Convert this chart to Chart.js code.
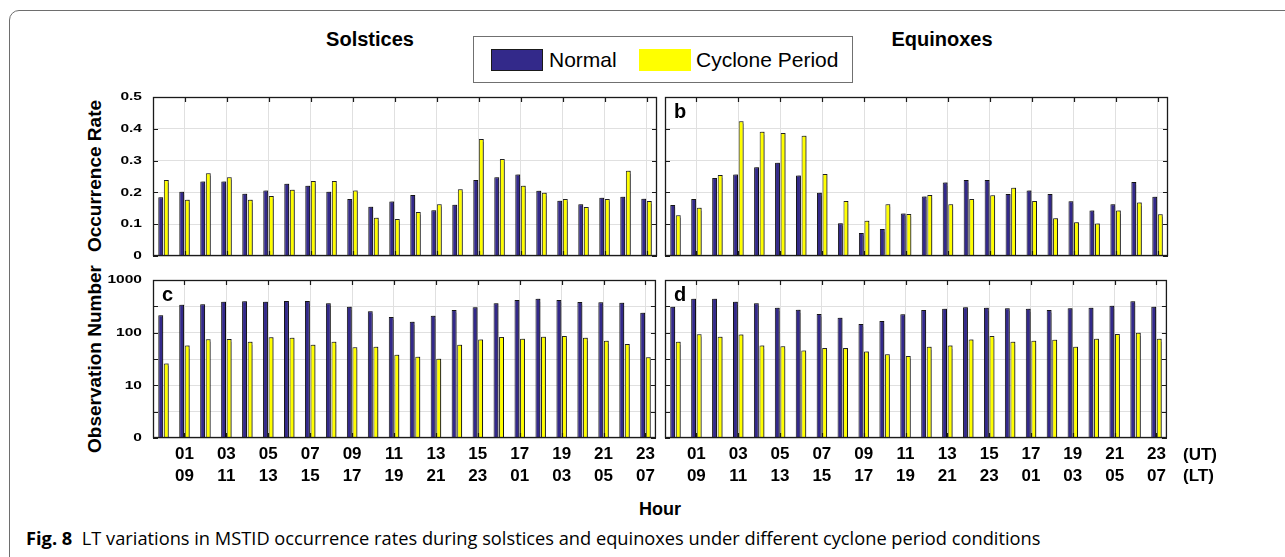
<!DOCTYPE html>
<html>
<head>
<meta charset="utf-8">
<script src="https://cdn.jsdelivr.net/npm/chart.js@4.4.0/dist/chart.umd.min.js"></script>
<style>
  html, body { margin: 0; padding: 0; background: #fff; }
  body { width: 1285px; height: 557px; position: relative; overflow: hidden;
         font-family: "Liberation Sans", Arial, sans-serif; color: #000; }
  .frame { position: absolute; left: 9px; top: 10px; width: 1300px; height: 560px;
           border: 1.5px solid #6e6e6e; border-radius: 10px; box-sizing: border-box; }
  .abs { position: absolute; white-space: nowrap; }
  .ctr { transform: translate(-50%, -50%); }
  .rot { transform: translate(-50%, -50%) rotate(-90deg); }
  canvas { position: absolute; }
  .legend { position: absolute; left: 473px; top: 36px; width: 380px; height: 47px;
            border: 1px solid #707070; box-sizing: border-box; background: #fff; }
  .sw { position: absolute; top: 12px; width: 52px; height: 22px; box-sizing: border-box; }
  .lt { position: absolute; top: 23px; transform: translateY(-50%); font-size: 21px; white-space: nowrap; }
  #caption { font-family: "Open Sans", "Noto Sans", sans-serif; font-size: 16px; }
</style>
</head>
<body>
<div class="frame"></div>

<div class="abs ctr" style="left:370px; top:39px; font-weight:bold; font-size:20px;">Solstices</div>
<div class="abs ctr" style="left:942px; top:39px; font-weight:bold; font-size:20px;">Equinoxes</div>

<div class="legend">
  <div class="sw" style="left:17px; background:#33298a; border:1px solid #1a1a1a;"></div>
  <div class="lt" style="left:75px;">Normal</div>
  <div class="sw" style="left:165px; background:#ffff00;"></div>
  <div class="lt" style="left:222px;">Cyclone Period</div>
</div>

<div class="abs rot" style="left:95px; top:176px; font-weight:bold; font-size:19px;">Occurrence Rate</div>
<div class="abs rot" style="left:95px; top:359px; font-weight:bold; font-size:19px;">Observation Number</div>

<canvas id="panelA" width="568" height="169" style="left:93px; top:91px;"></canvas>
<canvas id="panelB" width="567" height="169" style="left:605px; top:91px;"></canvas>
<canvas id="panelC" width="568" height="214" style="left:93px; top:274px;"></canvas>
<canvas id="panelD" width="567" height="214" style="left:605px; top:274px;"></canvas>

<div class="abs" style="left:1183px; top:455px; transform:translateY(-50%); font-weight:bold; font-size:17px;">(UT)</div>
<div class="abs" style="left:1183px; top:476px; transform:translateY(-50%); font-weight:bold; font-size:17px;">(LT)</div>
<div class="abs ctr" style="left:660px; top:509px; font-weight:bold; font-size:18px;">Hour</div>

<div id="caption" class="abs" style="left:26px; top:537px; transform:translateY(-50%);"><b>Fig. 8</b>&nbsp; LT variations in MSTID occurrence rates during solstices and equinoxes under different cyclone period conditions</div>

<script>
// categories (UT hour)
const hours = ["00","01","02","03","04","05","06","07","08","09","10","11",
               "12","13","14","15","16","17","18","19","20","21","22","23"];
const utTickLabels = ["01","03","05","07","09","11","13","15","17","19","21","23"];
const ltTickLabels = ["09","11","13","15","17","19","21","23","01","03","05","07"];

// occurrence rate
const solsticeRateNormal  = [0.185,0.202,0.234,0.234,0.196,0.206,0.227,0.221,0.202,0.179,0.155,0.171,
                             0.192,0.144,0.161,0.239,0.248,0.256,0.205,0.174,0.163,0.183,0.186,0.180];
const solsticeRateCyclone = [0.239,0.177,0.260,0.248,0.177,0.189,0.208,0.236,0.236,0.206,0.120,0.116,
                             0.138,0.163,0.210,0.368,0.305,0.221,0.199,0.179,0.154,0.179,0.268,0.173];
const equinoxRateNormal   = [0.160,0.179,0.245,0.256,0.279,0.293,0.253,0.199,0.103,0.072,0.085,0.134,
                             0.187,0.231,0.239,0.239,0.195,0.206,0.195,0.172,0.143,0.163,0.233,0.186];
const equinoxRateCyclone  = [0.128,0.152,0.255,0.424,0.391,0.387,0.378,0.258,0.173,0.111,0.163,0.132,
                             0.192,0.163,0.179,0.191,0.215,0.173,0.119,0.106,0.102,0.143,0.168,0.131];

// observation number
const solsticeObsNormal  = [213,340,345,388,393,388,399,399,360,312,254,198,
                            162,210,269,303,360,417,442,417,382,377,371,240];
const solsticeObsCyclone = [26,57,75,76,67,82,80,59,67,53,54,38,
                            35,32,59,74,83,77,84,86,80,70,61,34];
const equinoxObsNormal   = [312,442,442,388,360,298,273,226,193,146,167,223,
                            269,285,303,298,290,285,269,290,298,326,393,312];
const equinoxObsCyclone  = [67,93,84,92,57,55,46,51,51,44,39,36,
                            54,57,74,86,67,70,73,54,77,94,100,77];

// y axis ticks
const rateTickValues = [0, 0.1, 0.2, 0.3, 0.4, 0.5];
const rateTickLabels = ["0", "0.1", "0.2", "0.3", "0.4", "0.5"];
const obsTickValues  = [1, 3.162, 10, 31.62, 100, 316.2, 1000];
const obsTickLabels  = ["0", "", "10", "", "100", "", "1000"];

const NAVY = "#33298a";
const YELLOW = "#ffff00";
const GRID = "#e0e0e0";
const FONT = '"Liberation Sans", Arial, sans-serif';

const barShadow = {
  id: "barShadow",
  beforeDatasetsDraw(chart) {
    const c = chart.ctx;
    c.save();
    c.shadowColor = "rgba(0,0,0,0.45)";
    c.shadowOffsetX = 1.5;
    c.shadowOffsetY = -0.5;
    c.shadowBlur = 1;
  },
  afterDatasetsDraw(chart) {
    chart.ctx.restore();
  }
};

// box, inward ticks, stretched y labels and panel letter
const matlabAxes = {
  id: "matlabAxes",
  afterDraw(chart, args, opts) {
    const c = chart.ctx;
    const { left, right, top, bottom } = chart.chartArea;
    const x = chart.scales.x, y = chart.scales.y;
    c.save();
    c.strokeStyle = "#1a1a1a";
    c.lineWidth = 1.2;
    c.beginPath();
    x.ticks.forEach((t, i) => {
      if (i % 2 !== 1) return;
      const px = Math.round(x.getPixelForTick(i)) + 0.5;
      c.moveTo(px, top); c.lineTo(px, top + 5);
      c.moveTo(px, bottom); c.lineTo(px, bottom - 5);
    });
    y.ticks.forEach((t) => {
      const py = Math.round(y.getPixelForValue(t.value)) + 0.5;
      c.moveTo(left, py); c.lineTo(left + 5, py);
      c.moveTo(right, py); c.lineTo(right - 5, py);
    });
    c.stroke();
    c.lineWidth = 1.3;
    c.strokeRect(left + 0.5, top + 0.5, right - left - 1, bottom - top - 1);

    if (opts.yLabels) {
      c.fillStyle = "#000";
      c.font = "bold 11.5px " + FONT;
      c.textAlign = "right";
      c.textBaseline = "middle";
      y.ticks.forEach((t, i) => {
        const py = y.getPixelForValue(t.value);
        c.save();
        c.translate(left - 11, py);
        c.scale(1.35, 1);
        c.fillText(opts.yLabels[i], 0, 0);
        c.restore();
      });
    }
    if (opts.letter) {
      c.fillStyle = "#000";
      c.font = "bold 20px " + FONT;
      c.textAlign = "left";
      c.textBaseline = "alphabetic";
      c.fillText(opts.letter, left + 9, top + 21);
    }
    c.restore();
  }
};

function makePanel(id, normal, cyclone, cfg) {
  const isLog = cfg.log;
  const tickValues = isLog ? obsTickValues : rateTickValues;
  new Chart(document.getElementById(id), {
    type: "bar",
    data: {
      labels: hours,
      datasets: [
        { data: normal, backgroundColor: NAVY, borderColor: "#161616", borderWidth: 1 },
        { data: cyclone, backgroundColor: YELLOW, borderColor: "#262626", borderWidth: 1 }
      ]
    },
    options: {
      responsive: false,
      animation: false,
      events: [],
      layout: { padding: { left: 0, right: 4, top: 6, bottom: cfg.bottomTicks ? 0 : 4 } },
      datasets: { bar: { categoryPercentage: 0.53, barPercentage: 0.88 } },
      scales: {
        x: {
          grid: {
            offset: false,
            drawTicks: false,
            color: (ctx) => (ctx.index % 2 === 1 ? GRID : "rgba(0,0,0,0)")
          },
          border: { display: false },
          ticks: {
            display: !!cfg.bottomTicks,
            autoSkip: false,
            maxRotation: 0,
            minRotation: 0,
            padding: 6,
            color: "#000",
            font: { family: FONT, size: 17, weight: "bold", lineHeight: 1.25 },
            callback: (v, i) => (i % 2 === 1 ? [utTickLabels[(i - 1) / 2], ltTickLabels[(i - 1) / 2]] : "")
          },
          afterFit: (s) => { s.height = cfg.bottomTicks ? 50 : 0; }
        },
        y: {
          type: isLog ? "logarithmic" : "linear",
          min: tickValues[0],
          max: tickValues[tickValues.length - 1],
          grid: { drawTicks: false, color: GRID },
          border: { display: false },
          ticks: { display: false },
          afterBuildTicks: (s) => { s.ticks = tickValues.map((v) => ({ value: v })); },
          afterFit: (s) => { s.width = 60; }
        }
      },
      plugins: {
        legend: { display: false },
        tooltip: { enabled: false },
        matlabAxes: {
          letter: cfg.letter,
          yLabels: cfg.showY ? (isLog ? obsTickLabels : rateTickLabels) : null
        }
      }
    },
    plugins: [barShadow, matlabAxes]
  });
}

makePanel("panelA", solsticeRateNormal, solsticeRateCyclone, { log: false, showY: true, letter: "" });
makePanel("panelB", equinoxRateNormal, equinoxRateCyclone, { log: false, showY: false, letter: "b" });
makePanel("panelC", solsticeObsNormal, solsticeObsCyclone, { log: true, showY: true, letter: "c", bottomTicks: true });
makePanel("panelD", equinoxObsNormal, equinoxObsCyclone, { log: true, showY: false, letter: "d", bottomTicks: true });

// fit caption to the width it has in the figure
const cap = document.getElementById("caption");
const w = cap.getBoundingClientRect().width;
cap.style.fontSize = (16 * 1015 / w).toFixed(2) + "px";
</script>
</body>
</html>
